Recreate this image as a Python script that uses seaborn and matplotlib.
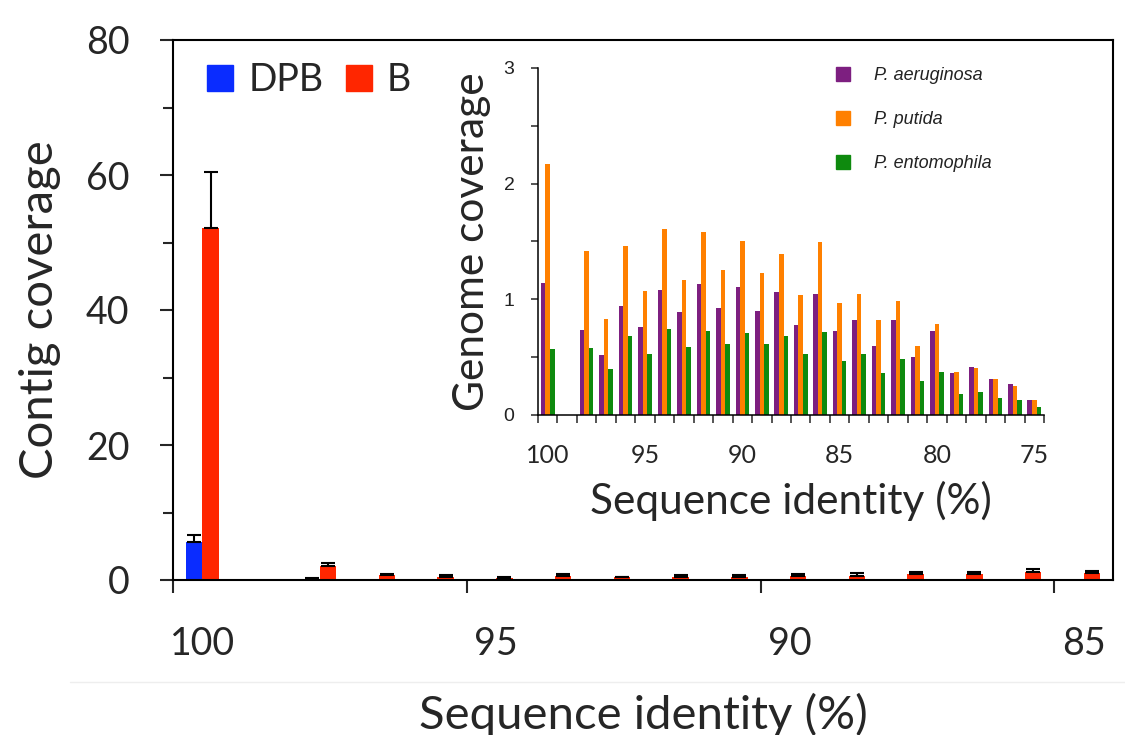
import pandas as pd
import matplotlib
matplotlib.use("Agg")
import matplotlib.pyplot as plt
from matplotlib.patches import Patch
from matplotlib.lines import Line2D
import seaborn as sns

# main panel: contig coverage per sequence identity
identity_main = [100, 99, 98, 97, 96, 95, 94, 93, 92, 91, 90, 89, 88, 87, 86, 85]
dpb = [5.7, 0.05, 0.05, 0.05, 0.05, 0.05, 0.05, 0.05, 0.05, 0.05, 0.05, 0.05, 0.05, 0.05, 0.05, 0.05]
dpb_err = [0.9, 0, 0.25, 0, 0, 0, 0, 0, 0, 0, 0, 0, 0, 0, 0, 0]
b = [52.2, 0.05, 2.1, 0.75, 0.5, 0.35, 0.6, 0.4, 0.5, 0.5, 0.6, 0.65, 0.85, 0.85, 1.25, 1.0]
b_err = [8.2, 0, 0.4, 0.15, 0.2, 0.1, 0.25, 0.1, 0.25, 0.2, 0.25, 0.35, 0.3, 0.3, 0.4, 0.4]

# inset: genome coverage per species
identity_inset = list(range(100, 74, -1))
aeruginosa = [1.145, 0, 0.736, 0.52, 0.94, 0.765, 1.085, 0.89, 1.13, 0.926, 1.11, 0.895, 1.06,
              0.78, 1.045, 0.725, 0.825, 0.6, 0.82, 0.50, 0.727, 0.36, 0.415, 0.312, 0.266, 0.13]
putida = [2.17, 0, 1.42, 0.83, 1.46, 1.07, 1.61, 1.17, 1.585, 1.25, 1.50, 1.225, 1.39,
          1.036, 1.495, 0.965, 1.05, 0.825, 0.987, 0.597, 0.79, 0.372, 0.404, 0.312, 0.251, 0.13]
entomophila = [0.57, 0, 0.583, 0.40, 0.68, 0.53, 0.74, 0.59, 0.727, 0.617, 0.71, 0.61, 0.68,
               0.525, 0.72, 0.47, 0.53, 0.364, 0.485, 0.29, 0.372, 0.185, 0.196, 0.147, 0.127, 0.07]
species = ["P. aeruginosa", "P. putida", "P. entomophila"]

sns.set_style("ticks")
plt.rcParams["font.family"] = ["Lato", "DejaVu Sans"]

main_df = pd.DataFrame({
    "identity": identity_main * 2,
    "group": ["DPB"] * len(dpb) + ["B"] * len(b),
    "coverage": dpb + b,
})
inset_df = pd.DataFrame({
    "identity": identity_inset * 3,
    "species": sum([[s] * len(identity_inset) for s in species], []),
    "coverage": aeruginosa + putida + entomophila,
})

fig = plt.figure(figsize=(11.25, 7.35), dpi=100)
W, H = 1125, 735
ax = fig.add_axes([173 / W, 1 - 580 / H, (1113 - 173) / W, (580 - 40) / H])

main_colors = {"DPB": "#0a2cff", "B": "#ff2600"}
sns.barplot(data=main_df, x="identity", y="coverage", hue="group",
            order=identity_main, hue_order=["DPB", "B"], palette=main_colors,
            width=0.56, errorbar=None, saturation=1, linewidth=0, legend=False, ax=ax)

for cont, err in zip(ax.containers, [dpb_err, b_err]):
    for bar, e in zip(cont, err):
        if e > 0:
            ax.errorbar(bar.get_x() + bar.get_width() / 2, bar.get_height(),
                        yerr=[[0], [e]], fmt="none", ecolor="black",
                        elinewidth=1.5, capsize=5, capthick=1.5)

ax.set_ylim(0, 80)
ax.set_xlim(-0.5, len(identity_main) - 0.5)
ax.set_yticks([0, 20, 40, 60, 80])
ax.set_yticks([10, 30, 50, 70], minor=True)
ax.set_xticks([0, 5, 10, 15])
ax.set_xticklabels(["100", "95", "90", "85"])
ax.set_xticks([-0.5, 4.5, 9.5, 14.5], minor=True)
ax.tick_params(axis="x", which="major", length=0, pad=33, labelsize=27)
ax.tick_params(axis="x", which="minor", length=9.5, width=1.5, direction="out")
ax.tick_params(axis="y", which="major", length=9.5, width=1.5, pad=22, labelsize=27)
ax.tick_params(axis="y", which="minor", length=7.5, width=1.5)
for sp in ax.spines.values():
    sp.set_linewidth(1.5)
    sp.set_color("black")
ax.set_xlabel("Sequence identity (%)", fontsize=34, labelpad=22)
ax.set_ylabel("Contig coverage", fontsize=34, labelpad=18)

handles = [Patch(color=main_colors["DPB"], label="DPB"), Patch(color=main_colors["B"], label="B")]
ax.legend(handles=handles, ncol=2, frameon=False, fontsize=27, loc="upper left",
          bbox_to_anchor=(207 / W, 1 - 62 / H), bbox_transform=fig.transFigure,
          borderpad=0, borderaxespad=0, handlelength=0.7, handleheight=0.7,
          handletextpad=0.4, columnspacing=0.6)

# faint frame of the pasted panel
fig.add_artist(Line2D([70 / W, 1], [1 - 682 / H] * 2, color="#eeeeee", lw=1))

# inset
ax_in = fig.add_axes([538 / W, 1 - 415 / H, (1044 - 538) / W, (415 - 68) / H])
ax_in.set_facecolor("none")
inset_colors = {"P. aeruginosa": "#7d1f80", "P. putida": "#ff8000", "P. entomophila": "#0e8a0e"}
sns.barplot(data=inset_df, x="identity", y="coverage", hue="species",
            order=identity_inset, hue_order=species, palette=inset_colors,
            width=0.7, errorbar=None, saturation=1, linewidth=0, legend=False, ax=ax_in)
ax_in.set_ylim(0, 3)
ax_in.set_xlim(-0.5, len(identity_inset) - 0.5)
ax_in.set_yticks([0, 1, 2, 3])
ax_in.set_yticks([0.5, 1.5, 2.5], minor=True)
ax_in.set_yticklabels(["0", "1", "2", "3"], family="Liberation Sans", fontsize=14, color="#222222")
ax_in.set_xticks([0, 5, 10, 15, 20, 25])
ax_in.set_xticklabels(["100", "95", "90", "85", "80", "75"])
ax_in.set_xticks([i - 0.5 for i in range(len(identity_inset) + 1)], minor=True)
ax_in.tick_params(axis="x", which="major", length=0, pad=21, labelsize=18)
ax_in.tick_params(axis="x", which="minor", length=5.5, width=1.1, direction="out")
ax_in.tick_params(axis="y", which="both", length=5, width=1.1, pad=12)
sns.despine(ax=ax_in)
for side in ["left", "bottom"]:
    ax_in.spines[side].set_linewidth(1.1)
    ax_in.spines[side].set_color("black")
ax_in.set_xlabel("Sequence identity (%)", fontsize=30.5, labelpad=10)
ax_in.set_ylabel("Genome coverage", fontsize=30.5, labelpad=9)

in_handles = [Patch(color=inset_colors[s], label=s) for s in species]
leg = ax_in.legend(handles=in_handles, frameon=False, loc="upper left",
                   bbox_to_anchor=(836 / W, 1 - 67 / H), bbox_transform=fig.transFigure,
                   borderpad=0, borderaxespad=0, handlelength=0.78, handleheight=0.78,
                   handletextpad=1.3, labelspacing=1.5,
                   prop={"family": "Liberation Sans", "style": "italic", "size": 13})
for t in leg.get_texts():
    t.set_color("#222222")

fig.savefig("out.png", dpi=100)
